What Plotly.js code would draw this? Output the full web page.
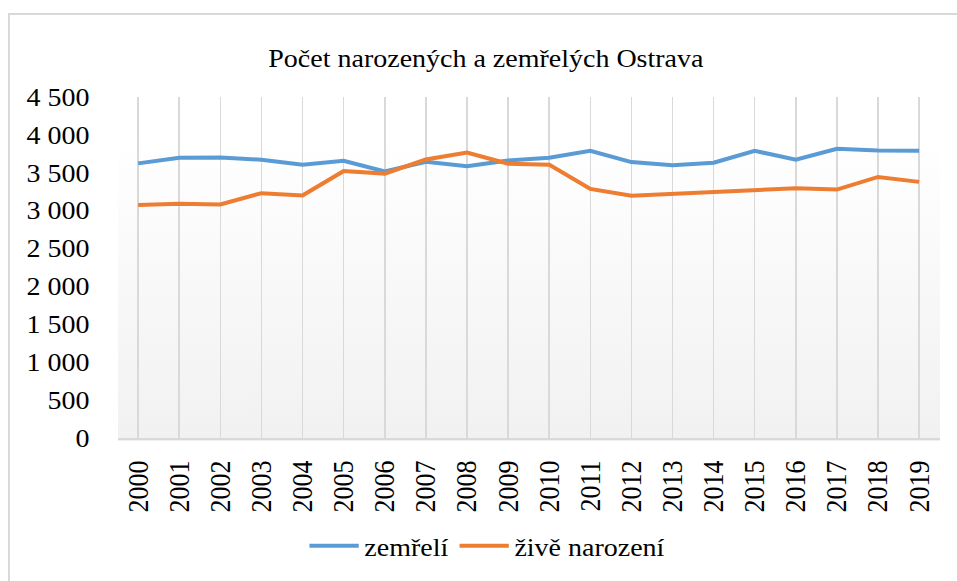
<!DOCTYPE html>
<html>
<head>
<meta charset="utf-8">
<script src="https://cdn.plot.ly/plotly-3.0.1.min.js"></script>
<style>
  html, body { margin: 0; padding: 0; background: #ffffff; overflow: hidden; }
  #frame { position: absolute; left: 8px; top: 13px; width: 2000px; height: 2000px;
           border-left: 2px solid #d9d9d9; border-top: 2px solid #d9d9d9; }
  #bg { position: absolute; left: 118px; top: 97px; width: 822px; height: 344px;
        background: linear-gradient(to bottom, #ffffff 0%, #ffffff 12%, #f1f1f1 100%); }
  #chart { position: absolute; left: 0; top: 0; width: 855px; height: 581px;
           transform: scaleX(1.12); transform-origin: 0 0; }
</style>
</head>
<body>
<div id="frame"></div>
<div id="bg"></div>
<div id="chart"></div>
<script>
const years = ["2000","2001","2002","2003","2004","2005","2006","2007","2008","2009",
               "2010","2011","2012","2013","2014","2015","2016","2017","2018","2019"];
const zemreli = [3624,3698,3702,3672,3606,3659,3519,3646,3585,3663,
                 3698,3790,3641,3598,3633,3790,3672,3816,3795,3790];
const ziveNarozeni = [3074,3092,3083,3231,3201,3523,3489,3676,3768,3620,
                      3607,3288,3196,3222,3253,3284,3297,3279,3445,3380];
const yTickVals = [0,500,1000,1500,2000,2500,3000,3500,4000,4500];
const yTickText = ["0","500","1 000","1 500","2 000","2 500","3 000","3 500","4 000","4 500"];
const titleText = "Počet narozených a zemřelých Ostrava";

const serif = "'Liberation Serif', 'Times New Roman', serif";

const traces = [
  { x: years, y: zemreli, name: "zemřelí", type: "scatter", mode: "lines",
    line: { color: "#5B9BD5", width: 4 } },
  { x: years, y: ziveNarozeni, name: "živě narození", type: "scatter", mode: "lines",
    line: { color: "#ED7D31", width: 4 } }
];

const layout = {
  width: 855, height: 581,
  margin: { l: 105, r: 16, t: 97, b: 140 },
  paper_bgcolor: "rgba(0,0,0,0)",
  plot_bgcolor: "rgba(0,0,0,0)",
  font: { family: serif, color: "#000000", size: 25 },
  title: { text: titleText, font: { family: serif, size: 25, color: "#000000" },
           x: 0.448, xref: "paper", xanchor: "center",
           y: 0.9, yref: "container", yanchor: "middle" },
  xaxis: {
    type: "category", range: [-0.5, 19.5],
    tickangle: -90, tickfont: { family: serif, size: 26 },
    showgrid: true, gridcolor: "#d9d9d9", gridwidth: 1.4,
    showline: true, linecolor: "#d9d9d9", linewidth: 2,
    ticks: "", ticklabelstandoff: 10, zeroline: false, fixedrange: true
  },
  yaxis: {
    range: [0, 4500], tickvals: yTickVals, ticktext: yTickText,
    tickfont: { family: serif, size: 25 },
    showgrid: false, zeroline: false, showline: false, ticks: "",
    ticklabelstandoff: 24, fixedrange: true
  },
  showlegend: true,
  legend: { orientation: "h", x: 0.45, xanchor: "center", y: -0.317, yanchor: "middle",
            itemwidth: 44,
            font: { family: serif, size: 25 }, bgcolor: "rgba(0,0,0,0)" }
};

Plotly.newPlot("chart", traces, layout, { displayModeBar: false, staticPlot: true });
</script>
</body>
</html>
